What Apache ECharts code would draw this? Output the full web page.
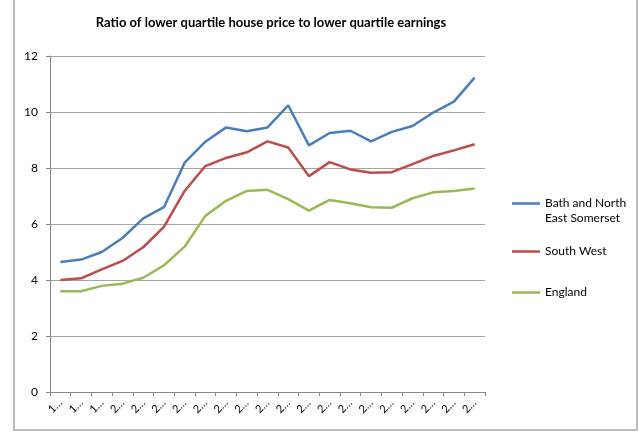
<!DOCTYPE html>
<html>
<head>
<meta charset="utf-8">
<script src="https://cdn.jsdelivr.net/npm/echarts@6/dist/echarts.min.js"></script>
<style>
  html, body { margin: 0; padding: 0; background: #fff; }
  #chart { width: 639px; height: 442px; }
</style>
</head>
<body>
<div id="chart"></div>
<script>
// years 1997 - 2017, shown truncated on the axis
var years = ['1997', '1998', '1999', '2000', '2001', '2002', '2003', '2004', '2005', '2006', '2007',
  '2008', '2009', '2010', '2011', '2012', '2013', '2014', '2015', '2016', '2017']
var bathNES = [4.64, 4.73, 5.0, 5.5, 6.2, 6.6, 8.19, 8.94, 9.45, 9.31, 9.45,
  10.24, 8.81, 9.25, 9.33, 8.95, 9.29, 9.5, 9.98, 10.37, 11.23]
var southWest = [4.0, 4.06, 4.38, 4.68, 5.17, 5.9, 7.18, 8.07, 8.36, 8.56, 8.95,
  8.73, 7.71, 8.21, 7.95, 7.83, 7.85, 8.14, 8.43, 8.63, 8.85]
var england = [3.6, 3.6, 3.79, 3.87, 4.08, 4.52, 5.19, 6.29, 6.83, 7.18, 7.22,
  6.89, 6.48, 6.86, 6.74, 6.6, 6.58, 6.92, 7.13, 7.18, 7.27]
var yTicks = [0, 2, 4, 6, 8, 10, 12]

var font = "'Liberation Sans Narrow', Lato, sans-serif"
var chart = echarts.init(document.getElementById('chart'))

function legendAt (name, top) {
  return {
    data: [name],
    orient: 'vertical',
    left: 507,
    top: top,
    itemWidth: 28,
    itemHeight: 14,
    itemGap: 0,
    icon: 'path://M0,6 L28,6 L28,8.5 L0,8.5 Z',
    textStyle: { fontFamily: font, fontSize: 12, color: '#000', lineHeight: 15 },
    formatter: function (n) {
      // empty first line keeps the marker beside the first line of the name
      return n === 'Bath and North East Somerset' ? ' \nBath and North\nEast Somerset' : n
    }
  }
}

var option = {
  animation: false,
  title: {
    text: 'Ratio of lower quartile house price to lower quartile earnings',
    left: 266,
    textAlign: 'center',
    top: 11,
    textStyle: { fontFamily: font, fontSize: 13, fontWeight: 'bold', color: '#000' }
  },
  graphic: [{
    type: 'rect',
    shape: { x: 14, y: -5, width: 623, height: 435 },
    style: { fill: 'none', stroke: '#bdbdbd', lineWidth: 2 },
    silent: true
  }],
  legend: [
    legendAt('Bath and North East Somerset', 176),
    legendAt('South West', 239),
    legendAt('England', 280)
  ],
  grid: { left: 50, right: 154, top: 56, bottom: 50 },
  xAxis: {
    type: 'category',
    data: years,
    boundaryGap: true,
    axisLine: { lineStyle: { color: '#868686', width: 1 } },
    axisTick: { show: true, length: 4, lineStyle: { color: '#868686' } },
    axisLabel: {
      rotate: 45,
      interval: 0,
      margin: 9,
      fontFamily: font,
      fontSize: 11,
      color: '#000',
      formatter: function (v) { return v.charAt(0) + '…' }
    }
  },
  yAxis: {
    type: 'value',
    min: yTicks[0],
    max: yTicks[yTicks.length - 1],
    interval: 2,
    axisLine: { show: true, lineStyle: { color: '#868686', width: 1 } },
    axisTick: { show: true, length: 4, lineStyle: { color: '#868686' } },
    axisLabel: { margin: 12, fontFamily: font, fontSize: 12, color: '#000' },
    splitLine: { lineStyle: { color: '#a6a6a6', width: 1 } }
  },
  series: [
    {
      name: 'Bath and North East Somerset',
      type: 'line',
      data: bathNES,
      symbol: 'none',
      lineStyle: { color: '#4a7ebb', width: 2.5 },
      itemStyle: { color: '#4a7ebb' }
    },
    {
      name: 'South West',
      type: 'line',
      data: southWest,
      symbol: 'none',
      lineStyle: { color: '#be4b48', width: 2.5 },
      itemStyle: { color: '#be4b48' }
    },
    {
      name: 'England',
      type: 'line',
      data: england,
      symbol: 'none',
      lineStyle: { color: '#98b954', width: 2.5 },
      itemStyle: { color: '#98b954' }
    }
  ]
}
chart.setOption(option)
</script>
</body>
</html>
